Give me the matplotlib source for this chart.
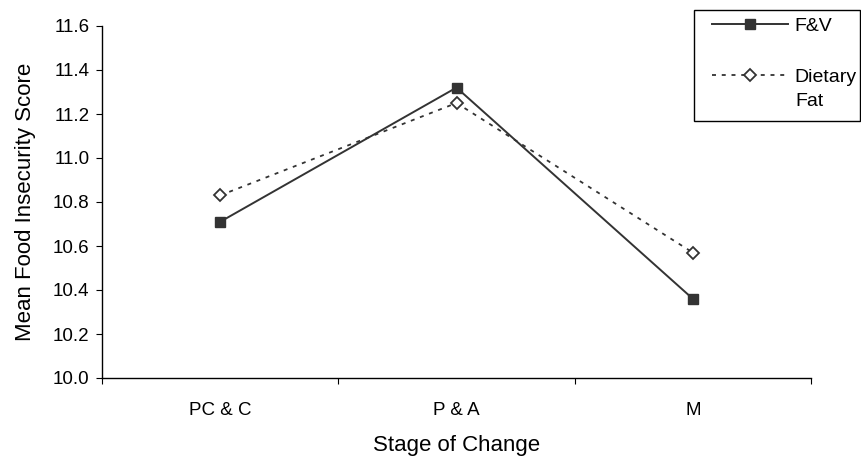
import matplotlib
matplotlib.use("Agg")
import matplotlib.pyplot as plt
from matplotlib.patches import Rectangle

plt.rcParams['font.family'] = ['Liberation Sans', 'DejaVu Sans']

stages = ["PC & C", "P & A", "M"]
fv_scores = [10.71, 11.32, 10.36]
fat_scores = [10.83, 11.25, 10.57]
y_ticks = [10.0, 10.2, 10.4, 10.6, 10.8, 11.0, 11.2, 11.4, 11.6]

W, H = 861, 459
fig = plt.figure(figsize=(W / 100, H / 100), dpi=100)
ax = fig.add_axes([102 / W, 1 - 378 / H, (811 - 102) / W, (378 - 26) / H])

line_color = "#333333"
x = list(range(len(stages)))
fv_line, = ax.plot(x, fv_scores, color=line_color, lw=1.4, marker="s",
                   markersize=7.5, markerfacecolor=line_color,
                   markeredgecolor=line_color, label="F&V")
fat_line, = ax.plot(x, fat_scores, color=line_color, lw=1.3,
                    linestyle=(0, (2.2, 3.2)), marker="D", markersize=6.5,
                    markerfacecolor="white", markeredgecolor=line_color,
                    markeredgewidth=1.3, label="Dietary")

ax.set_xlim(-0.5, len(stages) - 0.5)
ax.set_ylim(10.0, 11.6)
ax.set_yticks(y_ticks)
ax.set_yticklabels([f"{v:.1f}" for v in y_ticks], fontsize=13.5)
ax.set_xticks([i - 0.5 for i in range(len(stages) + 1)])
ax.set_xticklabels([])
ax.set_xticks(x, minor=True)
ax.set_xticklabels(stages, minor=True, fontsize=13.5)
ax.tick_params(axis="x", which="minor", length=0, pad=17)
ax.tick_params(axis="x", which="major", length=4, direction="out")
ax.tick_params(axis="y", length=4, direction="out", pad=5)

for side in ("top", "right"):
    ax.spines[side].set_visible(False)
for side in ("left", "bottom"):
    ax.spines[side].set_linewidth(1.0)

ax.set_xlabel("Stage of Change", fontsize=16, labelpad=12)
ax.set_ylabel("Mean Food Insecurity Score", fontsize=16, labelpad=12)

# legend box on the right of the plot
fig.patches.append(Rectangle((694 / W, 1 - 121 / H), (860 - 694) / W, 111 / H,
                             transform=fig.transFigure, fill=False,
                             edgecolor="black", lw=1.0))
leg = fig.legend(handles=[fv_line, fat_line], loc="upper left",
                 bbox_to_anchor=(712 / W, 1 - 17 / H), frameon=False,
                 fontsize=14, handlelength=3.9, handletextpad=0.36,
                 labelspacing=1.75, borderaxespad=0, borderpad=0)
# second line of the "Dietary Fat" label, under the legend entry
fig.text(795 / W, 1 - 101 / H, "Fat", fontsize=14, ha="left", va="center")

fig.savefig("out.png", dpi=100)
